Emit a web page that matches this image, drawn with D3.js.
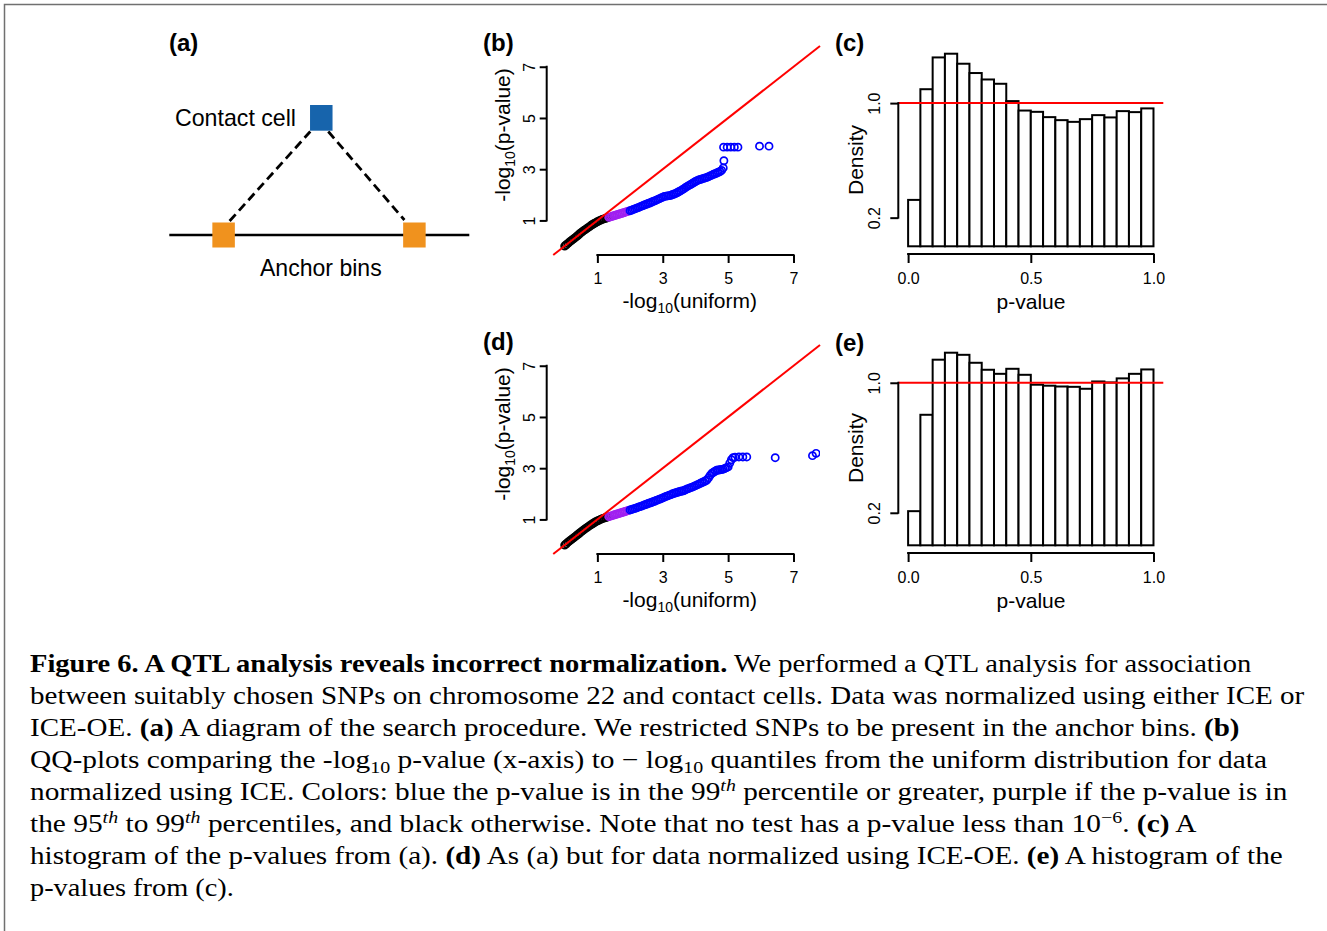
<!DOCTYPE html>
<html><head><meta charset="utf-8">
<script src="https://cdn.jsdelivr.net/npm/d3@7"></script>
<style>
html,body{margin:0;padding:0;background:#fff;}
svg{display:block;}
</style></head>
<body>
<script>
// ---------------- DATA ----------------
// Histogram bin edges (p-value)
const binEdges = [0,0.05,0.10,0.15,0.20,0.25,0.30,0.35,0.40,0.45,0.50,0.55,0.60,0.65,0.70,0.75,0.80,0.85,0.90,0.95,1.00];
// Histogram densities, panel (c) ICE
const histICE = [0.324,1.097,1.319,1.345,1.275,1.210,1.165,1.135,1.014,0.948,0.939,0.902,0.881,0.869,0.888,0.916,0.900,0.944,0.937,0.963];
// Histogram densities, panel (e) ICE-OE
const histICEOE = [0.210,0.803,1.142,1.185,1.172,1.123,1.080,1.055,1.086,1.049,0.988,0.982,0.977,0.975,0.963,1.008,1.002,1.027,1.055,1.082];

// QQ plot: expected -log10(uniform) quantiles (dense part)
const qqExpected = [0.00,0.05,0.10,0.15,0.20,0.25,0.30,0.35,0.40,0.45,0.50,0.55,0.60,0.65,0.70,0.75,0.80,0.85,0.90,0.95,
1.00,1.05,1.10,1.15,1.20,1.25,1.30,1.35,1.40,1.45,1.50,1.55,1.60,1.65,1.70,1.75,1.80,1.85,1.90,1.95,
2.00,2.05,2.10,2.15,2.20,2.25,2.30,2.35,2.40,2.45,2.50,2.55,2.60,2.65,2.70,2.75,2.80,2.85,2.90,2.95,
3.00,3.05,3.10,3.15,3.20,3.25,3.30,3.35,3.40,3.45,3.50,3.55,3.60,3.65,3.70,3.75,3.80,3.85,3.90,3.95,
4.00,4.05,4.10,4.15,4.20,4.25,4.30,4.35,4.40,4.45,4.50,4.55,4.60,4.65,4.70,4.75,4.80,4.85,4.90,4.95,
5.00,5.05,5.10,5.15];
// Observed -log10(p-value), panel (b) ICE
const qqObsICE = [0.00,0.05,0.10,0.16,0.21,0.26,0.31,0.36,0.41,0.47,
0.52,0.57,0.62,0.66,0.71,0.75,0.80,0.84,0.88,0.91,
0.95,0.98,1.01,1.04,1.06,1.08,1.10,1.12,1.14,1.16,
1.18,1.20,1.22,1.24,1.26,1.28,1.30,1.32,1.34,1.36,
1.38,1.40,1.43,1.45,1.48,1.50,1.53,1.56,1.58,1.61,
1.63,1.66,1.68,1.71,1.74,1.76,1.79,1.82,1.85,1.88,
1.91,1.94,1.95,1.96,1.97,1.98,2.01,2.03,2.06,2.09,
2.13,2.16,2.20,2.24,2.29,2.33,2.37,2.40,2.44,2.48,
2.52,2.55,2.58,2.60,2.62,2.64,2.66,2.68,2.71,2.74,
2.77,2.80,2.82,2.85,2.88,2.91,2.95,3.05];
const qqTailICEx = [4.87,4.86,4.97,5.08,5.19,5.30,5.96,6.25];
const qqTailICEy = [3.33,3.86,3.86,3.86,3.86,3.86,3.90,3.90];
// Observed -log10(p-value), panel (d) ICE-OE
const qqObsICEOE = [0.00,0.05,0.11,0.16,0.21,0.26,0.31,0.36,0.41,0.46,
0.51,0.56,0.61,0.66,0.70,0.75,0.79,0.83,0.87,0.91,
0.94,0.97,1.00,1.03,1.05,1.07,1.09,1.11,1.13,1.15,
1.17,1.19,1.21,1.23,1.25,1.27,1.29,1.31,1.33,1.35,
1.37,1.39,1.41,1.43,1.45,1.48,1.50,1.52,1.55,1.57,
1.59,1.62,1.64,1.66,1.69,1.71,1.74,1.76,1.79,1.81,
1.84,1.87,1.90,1.92,1.95,1.97,2.00,2.02,2.04,2.06,
2.08,2.10,2.11,2.13,2.16,2.19,2.21,2.24,2.26,2.29,
2.32,2.35,2.38,2.41,2.44,2.47,2.50,2.54,2.62,2.72,
2.80,2.84,2.88,2.92,2.93,2.94,2.95,2.96,2.99,3.02,
3.05,3.20,3.33,3.41];
const qqTailICEOEx = [5.21,5.33,5.45,5.57,6.44,7.58,7.69];
const qqTailICEOEy = [3.43,3.44,3.44,3.44,3.41,3.49,3.58];

// Tick values / labels
const qqTicks = [1,3,5,7];
const histXTicks = [0,0.5,1.0];
const histXTickLabels = ["0.0","0.5","1.0"];
const histYTicks = [0.2,1.0];
const histYTickLabels = ["0.2","1.0"];
// Percentile thresholds (expected -log10): 95th and 99th
const purpleFrom = 1.301, blueFrom = 2.0;

// ---------------- DRAWING ----------------
const W = 1327, H = 931;
const SANS = "'Liberation Sans', Arial, Helvetica, sans-serif";
const SERIF = "'Liberation Serif', 'Times New Roman', serif";
const svg = d3.select('body').append('svg').attr('width', W).attr('height', H);
const defs = svg.append('defs');

// frame
svg.append('path').attr('d', `M4.5,${H} V4.5 H${W}`).attr('fill','none')
  .attr('stroke','#707070').attr('stroke-width',1.5);

// panel labels
const panelLabels = [["(a)",169,51],["(b)",483,51],["(c)",835,51],["(d)",483,350],["(e)",835,351]];
panelLabels.forEach(([t,x,y]) => {
  svg.append('text').attr('x',x).attr('y',y).text(t)
    .style('font-family',SANS).style('font-weight','bold').style('font-size','24px');
});

// ---- panel (a): diagram ----
(function(){
  const g = svg.append('g');
  const sx = d3.scaleLinear().domain([0,1]).range([169.3,469.3]);
  const lineY = 235, topY = 118;
  const anchors = [0.181, 0.817];
  const contact = 0.5066;
  const bw = 22.5, bh = 25;
  g.append('line').attr('x1',sx(0)).attr('x2',sx(1)).attr('y1',lineY).attr('y2',lineY)
    .attr('stroke','#000').attr('stroke-width',2.4);
  // dashed links
  g.append('line').attr('x1',sx(anchors[0])+6).attr('y1',lineY-14).attr('x2',sx(contact)-11).attr('y2',topY+13.5)
    .attr('stroke','#000').attr('stroke-width',2.8).attr('stroke-dasharray','9,5');
  g.append('line').attr('x1',sx(contact)+7).attr('y1',topY+13.5).attr('x2',sx(anchors[1])-10).attr('y2',lineY-15)
    .attr('stroke','#000').attr('stroke-width',2.8).attr('stroke-dasharray','9,5');
  g.selectAll('rect.anchor').data(anchors).join('rect').attr('class','anchor')
    .attr('x',d=>sx(d)-bw/2).attr('y',lineY-bh/2).attr('width',bw).attr('height',bh).attr('fill','#F0921E');
  g.append('rect').attr('x',sx(contact)-bw/2).attr('y',topY-13).attr('width',bw).attr('height',bh+0.7).attr('fill','#1764AC');
  g.append('text').attr('x',175).attr('y',126).text('Contact cell')
    .style('font-family',SANS).style('font-size','24px').attr('textLength',121).attr('lengthAdjust','spacingAndGlyphs');
  g.append('text').attr('x',260).attr('y',276).text('Anchor bins')
    .style('font-family',SANS).style('font-size','24px').attr('textLength',121.7).attr('lengthAdjust','spacingAndGlyphs');
})();

function styleAxis(ax){
  ax.attr('font-family',SANS).attr('font-size',16);
  ax.select('.domain').remove();
  ax.selectAll('.tick line').attr('stroke','#000').attr('stroke-width',2);
  ax.selectAll('.tick text').attr('fill','#000');
}

// ---- QQ panels ----
function drawQQ(row, expected, observed, tailX, tailY){
  const dy = row*299;
  const x = d3.scaleLinear().domain([-0.55,7.81]).range([546.7,820]);
  const y = d3.scaleLinear().domain([-0.35,7.81]).range([255+dy,46+dy]);
  const g = svg.append('g');
  const cid = 'qqclip'+row;
  defs.append('clipPath').attr('id',cid).append('rect')
    .attr('x',x.range()[0]).attr('y',y.range()[1])
    .attr('width',x.range()[1]-x.range()[0]).attr('height',y.range()[0]-y.range()[1]);
  const pts = observed.map((o,i)=>({e:expected[i],o:o}))
    .concat(tailX.map((t,i)=>({e:t,o:tailY[i]})));
  const col = d => d.e < purpleFrom ? '#000000' : (d.e < blueFrom ? '#A020F0' : '#0000FF');
  g.append('g').attr('clip-path',`url(#${cid})`)
    .selectAll('circle').data(pts).join('circle')
    .attr('cx',d=>x(d.e)).attr('cy',d=>y(d.o)).attr('r',3.6)
    .attr('fill','none').attr('stroke',col).attr('stroke-width',1.7);
  const lo = Math.max(x.domain()[0],y.domain()[0]);
  const hi = Math.min(x.domain()[1],y.domain()[1]);
  g.append('line').attr('x1',x(lo)).attr('y1',y(lo)).attr('x2',x(hi)).attr('y2',y(hi))
    .attr('stroke','#FF0000').attr('stroke-width',2);
  // x axis
  const y0 = y.range()[0];
  const ax = g.append('g').attr('transform',`translate(0,${y0})`)
    .call(d3.axisBottom(x).tickValues(qqTicks).tickSize(8).tickFormat(d3.format('d')));
  styleAxis(ax);
  ax.selectAll('.tick text').attr('y',29).attr('dy',0);
  g.append('line').attr('x1',x(qqTicks[0])).attr('x2',x(qqTicks[qqTicks.length-1]))
    .attr('y1',y0).attr('y2',y0).attr('stroke','#000').attr('stroke-width',2).attr('stroke-linecap','square');
  // y axis
  const x0 = x.range()[0];
  const ay = g.append('g').attr('transform',`translate(${x0},0)`)
    .call(d3.axisLeft(y).tickValues(qqTicks).tickSize(7).tickFormat(d3.format('d')));
  styleAxis(ay);
  ay.selectAll('.tick text').attr('x',0).attr('dy',0).attr('text-anchor','middle')
    .attr('transform','translate(-12,0) rotate(-90)');
  g.append('line').attr('x1',x0).attr('x2',x0).attr('y1',y(qqTicks[0])).attr('y2',y(qqTicks[qqTicks.length-1]))
    .attr('stroke','#000').attr('stroke-width',2).attr('stroke-linecap','square');
  // titles
  const tx = g.append('text').attr('x',689.7).attr('y',308+dy).attr('text-anchor','middle')
    .style('font-family',SANS).style('font-size','21px');
  tx.append('tspan').text('-log');
  tx.append('tspan').attr('dy',5).style('font-size','14px').text('10');
  tx.append('tspan').attr('dy',-5).text('(uniform)');
  const ty = g.append('text').attr('transform',`translate(510,${135+dy}) rotate(-90)`).attr('text-anchor','middle')
    .style('font-family',SANS).style('font-size','21px');
  ty.append('tspan').text('-log');
  ty.append('tspan').attr('dy',5).style('font-size','14px').text('10');
  ty.append('tspan').attr('dy',-5).text('(p-value)');
}
drawQQ(0, qqExpected, qqObsICE, qqTailICEx, qqTailICEy);
drawQQ(1, qqExpected, qqObsICEOE, qqTailICEOEx, qqTailICEOEy);

// ---- Histogram panels ----
function drawHist(row, dens){
  const dy = row*299;
  const x = d3.scaleLinear().domain([-0.04,1.04]).range([898.3,1163.3]);
  const m = d3.max(dens);
  const y = d3.scaleLinear().domain([-0.04*m,1.04*m]).range([254+dy,46+dy]);
  const g = svg.append('g');
  g.selectAll('rect').data(dens).join('rect')
    .attr('x',(d,i)=>x(binEdges[i])).attr('width',(d,i)=>x(binEdges[i+1])-x(binEdges[i]))
    .attr('y',d=>y(d)).attr('height',d=>y(0)-y(d))
    .attr('fill','#fff').attr('stroke','#000').attr('stroke-width',2);
  g.append('line').attr('x1',x.range()[0]).attr('x2',x.range()[1]).attr('y1',y(1)).attr('y2',y(1))
    .attr('stroke','#FF0000').attr('stroke-width',2);
  const y0 = y.range()[0];
  const ax = g.append('g').attr('transform',`translate(0,${y0})`)
    .call(d3.axisBottom(x).tickValues(histXTicks).tickSize(9).tickFormat((d,i)=>histXTickLabels[i]));
  styleAxis(ax);
  ax.selectAll('.tick text').attr('y',30).attr('dy',0);
  g.append('line').attr('x1',x(0)).attr('x2',x(1)).attr('y1',y0).attr('y2',y0)
    .attr('stroke','#000').attr('stroke-width',2).attr('stroke-linecap','square');
  const x0 = x.range()[0];
  const ay = g.append('g').attr('transform',`translate(${x0},0)`)
    .call(d3.axisLeft(y).tickValues(histYTicks).tickSize(8).tickFormat((d,i)=>histYTickLabels[i]));
  styleAxis(ay);
  ay.selectAll('.tick text').attr('x',0).attr('dy',0).attr('text-anchor','middle')
    .attr('transform','translate(-18,0) rotate(-90)');
  g.append('line').attr('x1',x0).attr('x2',x0).attr('y1',y(histYTicks[0])).attr('y2',y(histYTicks[1]))
    .attr('stroke','#000').attr('stroke-width',2).attr('stroke-linecap','square');
  g.append('text').attr('x',1031).attr('y',309+dy).attr('text-anchor','middle').text('p-value')
    .style('font-family',SANS).style('font-size','21px');
  g.append('text').attr('transform',`translate(863,${(row?448:160)}) rotate(-90)`).attr('text-anchor','middle')
    .text('Density').style('font-family',SANS).style('font-size','21px');
}
drawHist(0, histICE);
drawHist(1, histICEOE);

// ---- Caption ----
const captionLines = [
  [['Figure 6. A QTL analysis reveals incorrect normalization.','b'],[' We performed a QTL analysis for association','n']],
  [['between suitably chosen SNPs on chromosome 22 and contact cells. Data was normalized using either ICE or','n']],
  [['ICE-OE. ','n'],['(a)','b'],[' A diagram of the search procedure. We restricted SNPs to be present in the anchor bins. ','n'],['(b)','b']],
  [['QQ-plots comparing the -log','n'],['10','sub'],[' p-value (x-axis) to \u2212 log','n'],['10','sub'],[' quantiles from the uniform distribution for data','n']],
  [['normalized using ICE. Colors: blue the p-value is in the 99','n'],['th','supi'],[' percentile or greater, purple if the p-value is in','n']],
  [['the 95','n'],['th','supi'],[' to 99','n'],['th','supi'],[' percentiles, and black otherwise. Note that no test has a p-value less than 10','n'],['\u22126','sup'],['. ','n'],['(c)','b'],[' A','n']],
  [['histogram of the p-values from (a). ','n'],['(d)','b'],[' As (a) but for data normalized using ICE-OE. ','n'],['(e)','b'],[' A histogram of the','n']],
  [['p-values from (c).','n']]
];
const captionRight = [1252,1305,1240,1268,1288,1197,1283,234];
captionLines.forEach((segs,i) => {
  const by = 672 + i*32;
  const t = svg.append('text').attr('transform',`translate(30,${by})`)
    .style('font-family',SERIF).style('font-size','25px').style('white-space','pre').attr('fill','#000');
  let shift = 0;
  segs.forEach(([s,k]) => {
    const ts = t.append('tspan').text(s);
    let target = 0;
    if (k==='b') ts.style('font-weight','bold');
    if (k==='sub') { target = 5; ts.style('font-size','17px'); }
    if (k==='sup' || k==='supi') { target = -9; ts.style('font-size','17px'); if (k==='supi') ts.style('font-style','italic'); }
    if (target !== shift) { ts.attr('dy', target - shift); shift = target; }
  });
  const w = t.node().getComputedTextLength();
  const sc = (captionRight[i]-30)/w;
  t.attr('transform',`translate(30,${by}) scale(${sc},1)`);
});
</script>
</body></html>
